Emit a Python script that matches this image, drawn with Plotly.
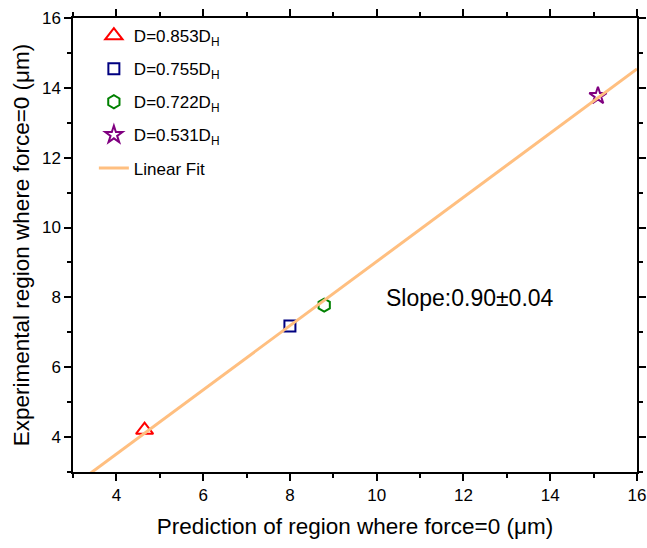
import numpy as np
import plotly.graph_objects as go

labels = ["D=0.853D<sub>H</sub>", "D=0.755D<sub>H</sub>", "D=0.722D<sub>H</sub>", "D=0.531D<sub>H</sub>"]
pred_x = [4.65, 8.0, 8.79, 15.1]
exp_y = [4.2, 7.18, 7.78, 13.77]
symbols = ["triangle-up-open", "square-open", "hexagon-open", "star-open"]
colors = ["#FF0000", "#000080", "#008000", "#800080"]
sizes = [15, 11, 13, 13]

slope, intercept = np.polyfit(pred_x, exp_y, 1)
fit_x = np.array([3.0, 16.0])
fit_y = slope * fit_x + intercept

FONT = "Liberation Sans, Arial, sans-serif"
fig = go.Figure()
for i, (lab, x, y, s, c, sz) in enumerate(zip(labels, pred_x, exp_y, symbols, colors, sizes)):
    fig.add_trace(go.Scatter(x=[x], y=[y], mode="markers", name=lab, legendgroup=f"g{i}",
                             marker=dict(symbol=s, size=sz, color=c, line=dict(width=2, color=c))))
fig.add_trace(go.Scatter(x=fit_x, y=fit_y, mode="lines", name="Linear Fit", legendgroup="fit",
                         line=dict(color="#FFBF80", width=3)))

fig.add_annotation(x=12.15, y=7.98, text="Slope:0.90±0.04", showarrow=False,
                   font=dict(family=FONT, size=23, color="black"))

axis_common = dict(showline=True, linecolor="black", linewidth=1.5, mirror="ticks",
                   ticks="outside", ticklen=7, tickwidth=1.5, tickcolor="black",
                   showgrid=False, zeroline=False, automargin=False,
                   tickfont=dict(family=FONT, size=17, color="black"),
                   minor=dict(ticks="outside", ticklen=4, tickwidth=1.5, tickcolor="black", dtick=1))
fig.update_xaxes(range=[3, 16], dtick=2, tick0=0,
                 title=dict(text="Prediction of region where force=0 (μm)", font=dict(family=FONT, size=22.5, color="black"), standoff=14),
                 **axis_common)
fig.update_yaxes(range=[3, 16], dtick=2, tick0=0,
                 title=dict(text="Experimental region where force=0 (μm)", font=dict(family=FONT, size=22.5, color="black"), standoff=6),
                 **axis_common)

fig.update_layout(width=647, height=548, plot_bgcolor="white", paper_bgcolor="white",
                  margin=dict(l=73, r=10, t=18, b=76),
                  font=dict(family=FONT, color="black"),
                  legend=dict(x=0.037, y=1.0, xanchor="left", yanchor="top",
                              font=dict(family=FONT, size=17, color="black"),
                              bgcolor="rgba(0,0,0,0)", tracegroupgap=8))
fig.write_html("out.html", config={"displayModeBar": False},
               post_script="document.body.style.margin='0';document.body.style.overflow='hidden';")
